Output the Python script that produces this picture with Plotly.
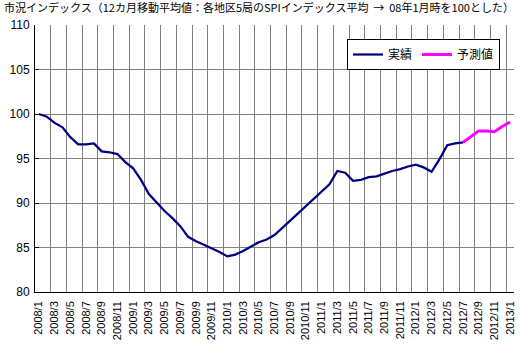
import plotly.graph_objects as go

# Categories: monthly from 2008/1 to 2013/1
months = [f"{y}/{m}" for y in range(2008, 2014) for m in range(1, 13)][:61]

# 実績 (actual) values, 2008/1 .. 2012/7
actual = [100.0, 99.7, 99.0, 98.5, 97.4, 96.6, 96.6, 96.7, 95.8, 95.7,
          95.5, 94.6, 93.9, 92.6, 91.0, 90.0, 89.1, 88.3, 87.4, 86.2,
          85.7, 85.3, 84.9, 84.5, 84.0, 84.2, 84.6, 85.1, 85.6, 85.9,
          86.4, 87.2, 88.0, 88.8, 89.6, 90.4, 91.3, 92.1, 93.6, 93.4,
          92.5, 92.6, 92.9, 93.0, 93.3, 93.6, 93.8, 94.1, 94.3, 94.0,
          93.5, 94.9, 96.5, 96.7, 96.8]
# 予測値 (forecast) values, 2012/7 .. 2013/1
forecast_start = 54
forecast = [96.8, 97.4, 98.1, 98.1, 98.0, 98.6, 99.1]

# Tick labels every 2 months
tick_idx = list(range(0, len(months), 2))
tick_labels = [months[i] for i in tick_idx]
grid_pos = [i + 1.5 for i in range(0, len(months) - 1, 2)] + [len(months) - 0.5]

x_actual = list(range(len(actual)))
x_fore = list(range(forecast_start, forecast_start + len(forecast)))

fig = go.Figure()
fig.add_trace(go.Scatter(x=x_actual, y=actual, mode="lines", name="実績",
                         line=dict(color="#000080", width=2.25)))
fig.add_trace(go.Scatter(x=x_fore, y=forecast, mode="lines", name="予測値",
                         line=dict(color="#FF00FF", width=3)))
fig.add_trace(go.Scatter(x=[0], y=[None], xaxis="x2", showlegend=False,
                         hoverinfo="skip", mode="lines"))

font_family = "Liberation Sans, Arial, sans-serif"
cjk = "Noto Sans CJK JP, sans-serif"

fig.update_layout(
    width=522, height=356,
    margin=dict(l=35, r=8, t=25, b=64, autoexpand=False),
    paper_bgcolor="white", plot_bgcolor="white",
    font=dict(family=font_family, color="black", size=12),
    title=dict(text="市況インデックス（12カ月移動平均値：各地区5局のSPIインデックス平均 \u00a0→\u00a0 08年1月時を100とした）",
               x=4/522, xanchor="left", xref="container",
               y=1 - 8/356, yanchor="middle", yref="container", automargin=False,
               font=dict(family=cjk, size=11, color="black")),
    xaxis=dict(range=[-0.5, len(months) - 0.5], tickmode="array", tickvals=grid_pos,
               showticklabels=False, showgrid=True, gridcolor="#808080", gridwidth=1,
               showline=True, linecolor="black", linewidth=1, ticks="", zeroline=False,
               automargin=False),
    xaxis2=dict(range=[-0.5, len(months) - 0.5], overlaying="x", side="bottom",
                tickmode="array", tickvals=tick_idx, ticktext=tick_labels,
                tickangle=-90, showgrid=False, showline=False, ticks="",
                ticklabelstandoff=6,
                tickfont=dict(size=11, family=font_family), zeroline=False,
                automargin=False),
    yaxis=dict(range=[80, 110], dtick=5, tick0=80, showgrid=True, gridcolor="#808080",
               gridwidth=1, showline=True, linecolor="black", linewidth=1,
               ticks="inside", ticklen=4, tickcolor="black", zeroline=False,
               ticklabelstandoff=2,
               tickfont=dict(size=12, family=font_family), automargin=False),
    legend=dict(orientation="h", x=(347 - 35) / 479, xanchor="left",
                y=(292 - 39) / 267, yanchor="top",
                bgcolor="white", bordercolor="black", borderwidth=1,
                font=dict(family=cjk, size=12), itemwidth=30),
    showlegend=True,
)

fig.write_html("out.html", config={"displayModeBar": False},
               post_script="document.body.style.margin='0';")
